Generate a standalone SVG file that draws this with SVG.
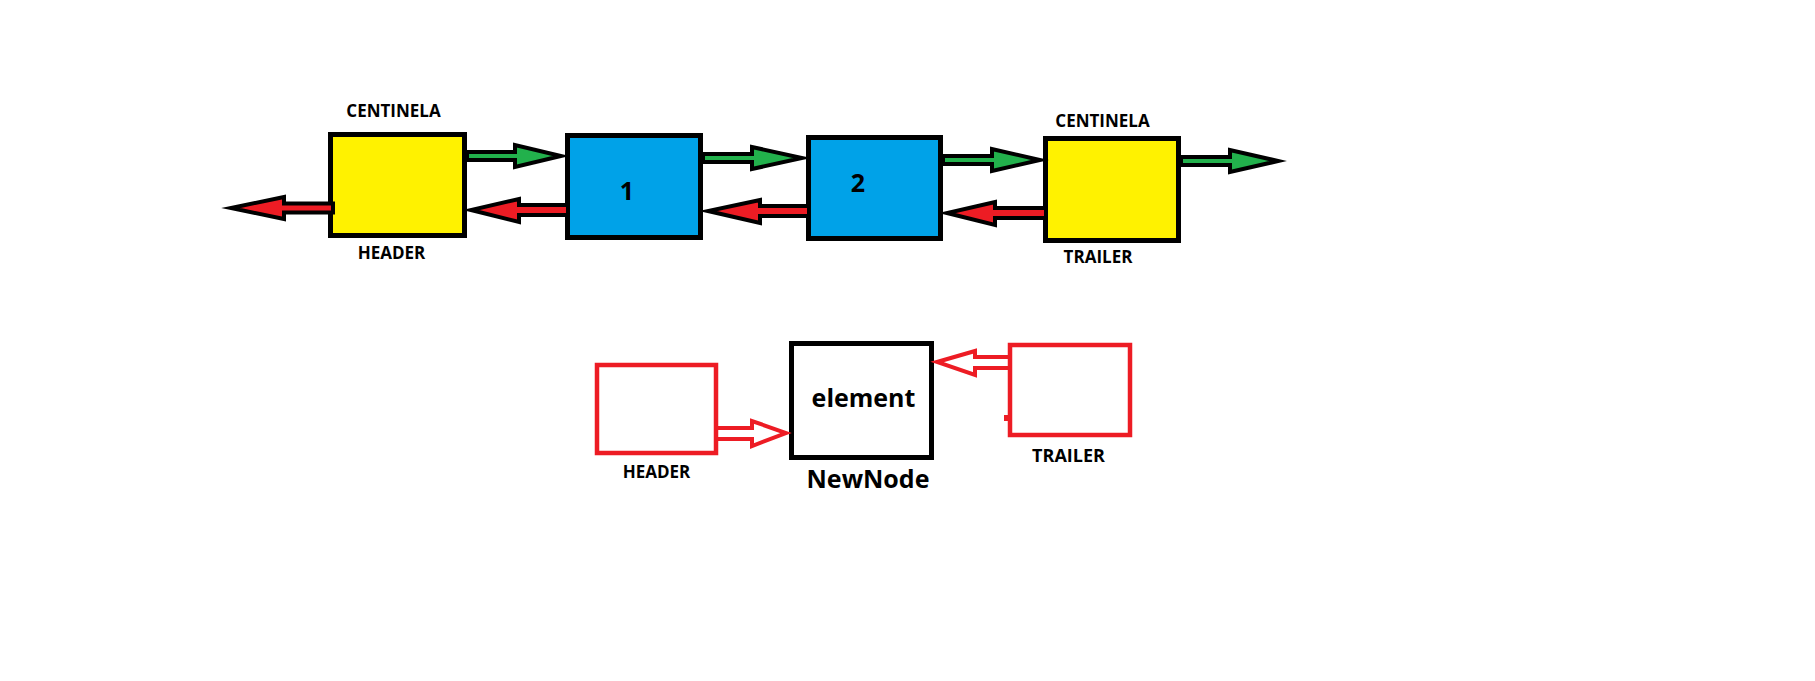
<svg xmlns="http://www.w3.org/2000/svg" width="1815" height="681" viewBox="0 0 1815 681">
<style>
text{font-family:"Open Sans","Liberation Sans",sans-serif;font-weight:bold;fill:#000;text-anchor:middle}
.lbl{font-size:17px}
.num{font-size:25px}
.big{font-size:25px}
.y{fill:#FFF200;stroke:#000;stroke-width:5}
.b{fill:#00A2E8;stroke:#000;stroke-width:5}
.g{fill:#22B14C;stroke:#000;stroke-width:4;stroke-linejoin:miter;stroke-miterlimit:10}
.r{fill:#ED1C24;stroke:#000;stroke-width:4;stroke-linejoin:miter;stroke-miterlimit:10}
.rb{fill:#fff;stroke:#ED1C24;stroke-width:4.5}
.kb{fill:#fff;stroke:#000;stroke-width:5}
.ho{fill:none;stroke:#ED1C24;stroke-width:4;stroke-linejoin:miter;stroke-miterlimit:10}
</style>
<rect width="1815" height="681" fill="#fff"/>
<g id="header-top">
<rect class="y" x="330.5" y="134.5" width="134" height="101"/>
<text class="lbl" x="393.5" y="117">CENTINELA</text>
<text class="lbl" x="391.5" y="259">HEADER</text>
</g>
<g id="node1">
<rect class="b" x="567.5" y="135.5" width="133" height="102"/>
<text class="num" x="627" y="200">1</text>
</g>
<g id="node2">
<rect class="b" x="808.5" y="137.5" width="132" height="101"/>
<text class="num" x="858" y="192">2</text>
</g>
<g id="trailer-top">
<rect class="y" x="1045.5" y="138.5" width="133" height="102"/>
<text class="lbl" x="1102.5" y="127">CENTINELA</text>
<text class="lbl" x="1098" y="263">TRAILER</text>
</g>
<g id="header-bottom">
<rect class="rb" x="597" y="365" width="119" height="88"/>
<text class="lbl" x="656.5" y="478">HEADER</text>
</g>
<g id="newnode">
<rect class="kb" x="791.5" y="343.5" width="140" height="114"/>
<text class="big" x="863.5" y="407">element</text>
<text class="big" x="868" y="488">NewNode</text>
</g>
<g id="trailer-bottom">
<rect class="rb" x="1010" y="345" width="120" height="90"/>
<rect x="1004" y="415" width="4" height="6" fill="#ED1C24"/>
<text class="lbl" x="1068.5" y="462" style="font-size:18px">TRAILER</text>
</g>
<g id="connectors">
<path class="g" d="M467,152 H515 V145 L561,156 L515,167 V160 H467 Z"/>
<path class="g" d="M703,154 H752 V147 L802,158 L752,169 V162 H703 Z"/>
<path class="g" d="M943,156 H992 V149 L1040,160 L992,171 V164 H943 Z"/>
<path class="g" d="M1181,157 H1230 V150 L1278,161 L1230,172 V165 H1181 Z"/>
<path class="r" d="M333,203.5 H284 V197 L231,208 L284,219 V212.5 H333 Z"/>
<path class="r" d="M568,205 H519 V199 L471,210 L519,222 V215 H568 Z"/>
<path class="r" d="M809,206 H760 V200 L708,211 L760,223 V216 H809 Z"/>
<path class="r" d="M1046,208 H995 V202 L947,213 L995,225 V218 H1046 Z"/>
<path class="ho" d="M718,428 H752 V421 L786,433 L752,446 V439 H718"/>
<path class="ho" d="M1008,357 H975 V351 L937,362 L975,375 V368 H1008"/>
</g>
</svg>
